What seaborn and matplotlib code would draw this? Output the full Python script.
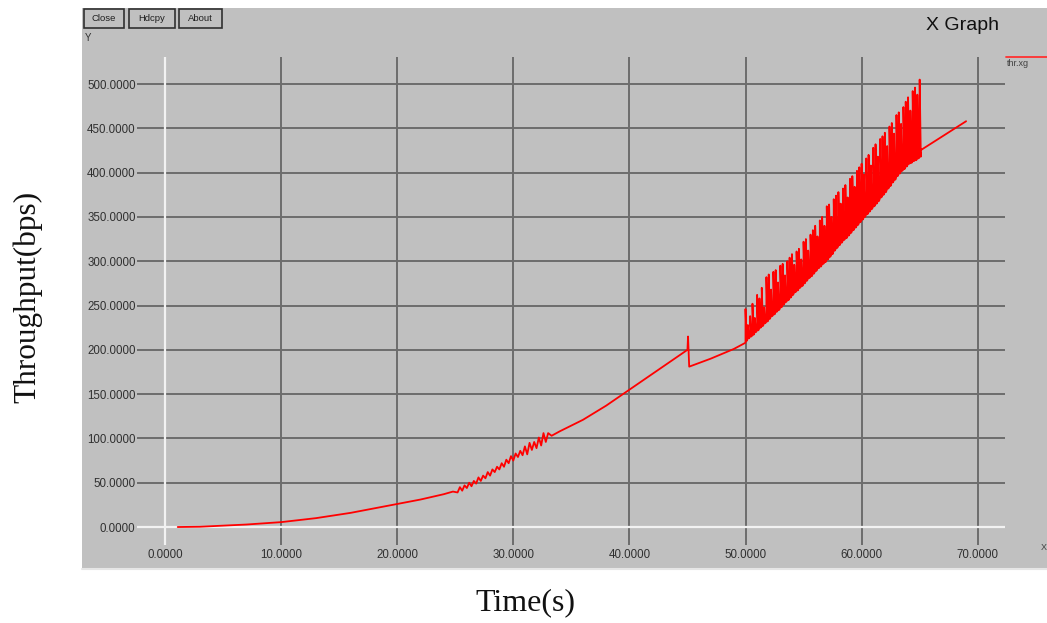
import matplotlib
matplotlib.use("Agg")
import matplotlib.pyplot as plt
from matplotlib.patches import Rectangle
from matplotlib.lines import Line2D
import seaborn as sns
import pandas as pd

# slow start, smooth growth (time s, throughput)
early_t = [1.1, 3.0, 5.0, 7.0, 10.0, 13.0, 16.0, 18.0, 20.0, 22.0, 24.0, 24.8]
early_v = [0.0, 0.3, 1.5, 2.8, 5.5, 10.0, 16.0, 21.0, 26.0, 31.0, 37.0, 40.0]

# noisy stretch between 25s and 33s
jitter_t = [25.2, 25.4, 25.6, 25.8, 26.0, 26.2, 26.4, 26.6, 26.8, 27.0,
            27.2, 27.4, 27.6, 27.8, 28.0, 28.2, 28.4, 28.6, 28.8, 29.0,
            29.2, 29.4, 29.6, 29.8, 30.0, 30.2, 30.4, 30.6, 30.8, 31.0,
            31.2, 31.4, 31.6, 31.8, 32.0, 32.2, 32.4, 32.6, 32.8, 33.0]
jitter_v = [39, 45, 41, 47, 44, 50, 46, 52, 49, 56,
            52, 58, 55, 62, 58, 65, 62, 68, 65, 72,
            68, 76, 72, 80, 75, 83, 79, 86, 81, 91,
            82, 95, 87, 96, 89, 101, 92, 106, 96, 106]

# smooth part with the drop at 45s
mid_t = [33.3, 34.0, 36.0, 38.0, 40.0, 42.0, 44.0, 45.0, 45.05, 45.15, 47.0, 49.0, 50.0]
mid_v = [103, 108, 121, 137, 155, 173, 191, 200, 215, 181, 190, 201, 208]

# dense oscillation band 50s..65s (each tooth: bottom, top)
band_t = [50.0, 50.2, 50.4, 50.6, 50.8, 51.0, 51.2, 51.4, 51.6, 51.8,
          52.0, 52.2, 52.4, 52.6, 52.8, 53.0, 53.2, 53.4, 53.6, 53.8,
          54.0, 54.2, 54.4, 54.6, 54.8, 55.0, 55.2, 55.4, 55.6, 55.8,
          56.0, 56.2, 56.4, 56.6, 56.8, 57.0, 57.2, 57.4, 57.6, 57.8,
          58.0, 58.2, 58.4, 58.6, 58.8, 59.0, 59.2, 59.4, 59.6, 59.8,
          60.0, 60.2, 60.4, 60.6, 60.8, 61.0, 61.2, 61.4, 61.6, 61.8,
          62.0, 62.2, 62.4, 62.6, 62.8, 63.0, 63.2, 63.4, 63.6, 63.8,
          64.0, 64.2, 64.4, 64.6, 64.8, 65.0]
band_lo = [210, 213, 215, 217, 220, 222, 225, 227, 230, 232,
           235, 238, 240, 243, 245, 248, 251, 254, 256, 259,
           262, 265, 267, 270, 272, 275, 278, 281, 283, 286,
           289, 292, 294, 297, 299, 302, 305, 308, 312, 315,
           318, 321, 324, 326, 329, 332, 335, 338, 341, 344,
           347, 350, 353, 356, 359, 362, 365, 368, 372, 375,
           378, 382, 385, 389, 392, 396, 399, 402, 404, 407,
           410, 411, 413, 414, 416, 418]
band_hi = [246, 228, 238, 252, 236, 262, 258, 270, 248, 282,
           285, 268, 288, 290, 276, 295, 297, 284, 300, 304,
           308, 296, 311, 314, 302, 322, 325, 312, 330, 335,
           340, 328, 346, 350, 340, 362, 364, 350, 370, 374,
           378, 365, 382, 386, 372, 393, 396, 384, 402, 406,
           410, 398, 416, 420, 408, 428, 432, 418, 438, 441,
           445, 430, 452, 456, 444, 465, 468, 455, 474, 480,
           485, 470, 492, 496, 488, 505]

# after the band
tail_t = [65.05, 69.0]
tail_v = [425, 458]

x_ticks = [0, 10, 20, 30, 40, 50, 60, 70]
y_ticks = [0, 50, 100, 150, 200, 250, 300, 350, 400, 450, 500]

# build the series in drawing order; each band tooth goes up and falls back
times = early_t + jitter_t + mid_t
vals = early_v + jitter_v + mid_v
for t, lo, hi in zip(band_t, band_lo, band_hi):
    times += [t, t, t + 0.1]
    vals += [lo, hi, lo]
times += tail_t
vals += tail_v
df = pd.DataFrame({"time": times, "thr": vals})

sns.set_style("white")
plt.rcParams["font.family"] = ["Liberation Sans", "DejaVu Sans"]

W, H = 1047, 623
fig = plt.figure(figsize=(W / 100, H / 100), dpi=100, facecolor="white")

# xgraph window panel (behind the axes)
bg = "#c0c0c0"
fig.patches.append(Rectangle((82 / W, 1 - 570 / H), 1 - 82 / W, (570 - 8) / H,
                             transform=fig.transFigure, facecolor=bg, edgecolor="none", zorder=-5))
fig.lines.append(Line2D([82 / W, 1], [1 - 569 / H] * 2, transform=fig.transFigure,
                        color="#e6e6e6", lw=1.5))

# buttons
for label, x0, x1 in [("Close", 84, 124), ("Hdcpy", 129, 175), ("About", 179, 222)]:
    fig.patches.append(Rectangle((x0 / W, 1 - 28 / H), (x1 - x0) / W, 19 / H,
                                 transform=fig.transFigure, facecolor=bg,
                                 edgecolor="#303030", lw=1.2, zorder=1))
    fig.text((x0 + x1) / 2 / W, 1 - 18.5 / H, label, ha="center", va="center",
             fontsize=6.8, color="#202020")
fig.text(85 / W, 1 - 38 / H, "Y", ha="left", va="center", fontsize=7, color="#303030")
fig.text(963 / W, 1 - 25 / H, "X Graph", ha="center", va="center", fontsize=14, color="#111111")

# legend entry at the right edge
fig.lines.append(Line2D([1006 / W, 1], [1 - 57 / H] * 2, transform=fig.transFigure,
                        color="#ff3030", lw=1.3))
fig.text(1007 / W, 1 - 64 / H, "thr.xg", ha="left", va="center", fontsize=6.5, color="#404040")
fig.text(1041 / W, 1 - 548 / H, "X", ha="left", va="center", fontsize=6.5, color="#404040")

ax = fig.add_axes([137 / W, 1 - 545 / H, (1005 - 137) / W, (545 - 57) / H])
ax.patch.set_alpha(0)
ax.set_axisbelow(True)

sns.lineplot(data=df, x="time", y="thr", sort=False, estimator=None,
             color="#ff0000", lw=1.3, ax=ax, zorder=3)

ax.set_xlim(-2.41, 72.35)
ax.set_ylim(-20.3, 530.5)
ax.set_xticks(x_ticks)
ax.set_yticks(y_ticks)
ax.set_xticklabels([f"{v:.4f}" for v in x_ticks])
ax.set_yticklabels([f"{v:.4f}" for v in y_ticks])
ax.grid(True, color="#6c6c6c", lw=1.4)
ax.axvline(0, color="#f2f2f2", lw=1.6, zorder=2)
ax.axhline(0, color="#f2f2f2", lw=1.6, zorder=2)
for s in ax.spines.values():
    s.set_visible(False)
ax.tick_params(axis="both", length=0, labelsize=8.3, labelcolor="#303030")
ax.tick_params(axis="x", pad=3)
ax.tick_params(axis="y", pad=1)
ax.set_xlabel("")
ax.set_ylabel("")

fig.text(27.5 / W, 1 - 297 / H, "Throughput(bps)", rotation=90, ha="center", va="center",
         fontsize=22.5, family=["Liberation Serif", "DejaVu Serif"], color="#111111")
fig.text(525 / W, 1 - 603 / H, "Time(s)", ha="center", va="center",
         fontsize=23, family=["Liberation Serif", "DejaVu Serif"], color="#111111")

fig.savefig("out.png", dpi=100, facecolor="white")
